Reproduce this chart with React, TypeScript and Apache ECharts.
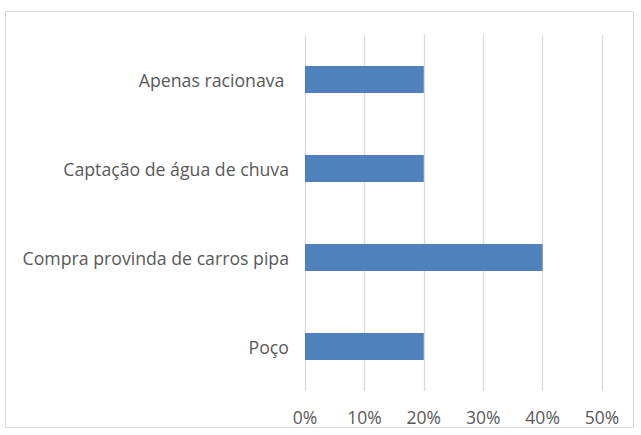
import React, { useEffect, useRef } from "react";
import * as echarts from "echarts";

const categories = ["Poço", "Compra provinda de carros pipa", "Captação de água de chuva", "Apenas racionava "];
const values = [20, 40, 20, 20];
const xMin = 0;
const xMax = 50;
const xInterval = 10;

export default function App() {
  const ref = useRef<HTMLDivElement>(null);
  useEffect(() => {
    if (!ref.current) return;
    const chart = echarts.init(ref.current, null, { renderer: "svg" });
    chart.setOption({
      animation: false,
      backgroundColor: "#ffffff",
      graphic: [
        {
          type: "rect",
          shape: { x: 5.5, y: 11.5, width: 628, height: 416 },
          style: { fill: "none", stroke: "#d9d9d9", lineWidth: 1 },
          silent: true,
        },
      ],
      grid: { left: 305, right: 39, top: 35, bottom: 44, containLabel: false },
      xAxis: {
        type: "value",
        min: xMin,
        max: xMax,
        interval: xInterval,
        axisLine: { show: false },
        axisTick: { show: false },
        splitLine: { show: true, lineStyle: { color: "#d9d9d9", width: 1.3 } },
        axisLabel: {
          formatter: (v: number) => v + "%",
          color: "#595959",
          fontFamily: "Open Sans",
          fontSize: 17.5,
          margin: 17,
        },
      },
      yAxis: {
        type: "category",
        data: categories,
        axisLine: { show: false },
        axisTick: { show: false },
        axisLabel: {
          color: "#595959",
          fontFamily: "Open Sans",
          fontSize: 17.7,
          margin: 16,
        },
      },
      series: [
        {
          type: "bar",
          data: values,
          barWidth: 27,
          itemStyle: { color: "#4f81bd" },
        },
      ],
    });
    return () => chart.dispose();
  }, []);
  return (
    <div
      ref={ref}
      style={{ position: "fixed", left: 0, top: 0, width: 641, height: 435 }}
    />
  );
}
